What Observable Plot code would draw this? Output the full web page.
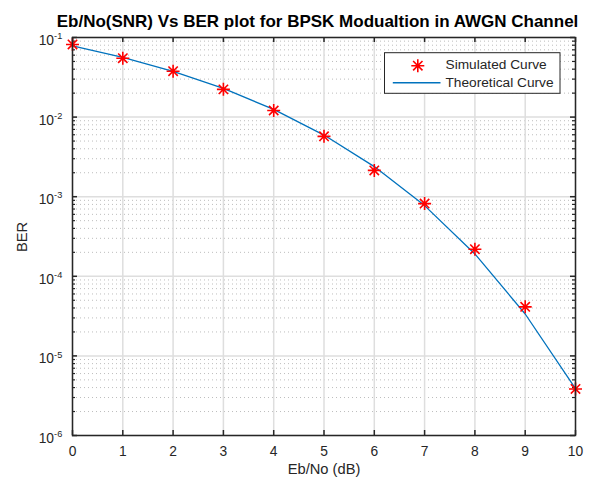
<!DOCTYPE html>
<html><head><meta charset="utf-8">
<script src="https://cdn.jsdelivr.net/npm/d3@7"></script>
<script src="https://cdn.jsdelivr.net/npm/@observablehq/plot@0.6"></script>
<style>body{margin:0;background:#fff}#chart svg{display:block}</style>
</head><body><div id="chart"></div>
<script>
const ebNo = [0, 1, 2, 3, 4, 5, 6, 7, 8, 9, 10];
const simulatedBER = [0.0817, 0.0549, 0.0377, 0.0223, 0.0121, 0.00573, 0.00214, 0.000819, 0.000219, 4.13e-5, 3.84e-6];
const theoreticalBER = [0.0786, 0.0563, 0.0375, 0.0229, 0.0125, 0.00595, 0.00239, 0.000773, 0.000191, 3.36e-5, 3.87e-6];
const xTicks = [0, 1, 2, 3, 4, 5, 6, 7, 8, 9, 10];
const yTicks = [1e-6, 1e-5, 1e-4, 1e-3, 1e-2, 1e-1];
const yTickBase = ["10", "10", "10", "10", "10", "10"];
const yTickExponents = ["-6", "-5", "-4", "-3", "-2", "-1"];
const minorMultipliers = [2, 3, 4, 5, 6, 7, 8, 9];
const titleText = "Eb/No(SNR) Vs BER plot for BPSK Modualtion in AWGN Channel";
const xLabel = "Eb/No (dB)";
const yLabel = "BER";
const legendLabels = ["Simulated Curve", "Theoretical Curve"];

const W = 601, H = 481, mL = 72, mR = 26, mT = 37, mB = 46;
const fw = W - mL - mR, fh = H - mT - mB;
const yMinor = yTicks.slice(0, -1).flatMap(d => minorMultipliers.map(k => d * k));
const axisColor = "#262626";
const font = "'Liberation Sans', Arial, Helvetica, sans-serif";

const asterisk = {
  draw(ctx, size) {
    const r = Math.sqrt(size / Math.PI), d = r * 0.72;
    ctx.moveTo(-r, 0); ctx.lineTo(r, 0);
    ctx.moveTo(0, -r); ctx.lineTo(0, r);
    ctx.moveTo(-d, -d); ctx.lineTo(d, d);
    ctx.moveTo(-d, d); ctx.lineTo(d, -d);
  }
};

const chart = Plot.plot({
  width: W, height: H,
  marginLeft: mL, marginRight: mR, marginTop: mT, marginBottom: mB,
  style: {fontFamily: font, background: "#fff", color: axisColor, overflow: "visible"},
  x: {domain: [0, 10]},
  y: {type: "log", domain: [1e-6, 1e-1], axis: null},
  marks: [
    Plot.ruleY(yMinor, {y: d => d, stroke: "#bdbdbd", strokeDasharray: "1,3"}),
    Plot.ruleX(xTicks, {x: d => d, stroke: "#dedede", strokeWidth: 1.5}),
    Plot.ruleY(yTicks, {y: d => d, stroke: "#dedede", strokeWidth: 1.5}),
    // inward ticks
    Plot.tickX(xTicks, {x: d => d, insetTop: fh - 5, stroke: axisColor, strokeWidth: 1.5}),
    Plot.tickX(xTicks, {x: d => d, insetBottom: fh - 5, stroke: axisColor, strokeWidth: 1.5}),
    Plot.tickY(yTicks, {y: d => d, insetRight: fw - 5, stroke: axisColor, strokeWidth: 1.5}),
    Plot.tickY(yTicks, {y: d => d, insetLeft: fw - 5, stroke: axisColor, strokeWidth: 1.5}),
    Plot.tickY(yMinor, {y: d => d, insetRight: fw - 3, stroke: axisColor, strokeWidth: 1.2}),
    Plot.tickY(yMinor, {y: d => d, insetLeft: fw - 3, stroke: axisColor, strokeWidth: 1.2}),
    // data
    Plot.line(ebNo, {x: d => d, y: (d, i) => theoreticalBER[i], stroke: "#0072BD", strokeWidth: 1.3}),
    Plot.dot(ebNo, {x: d => d, y: (d, i) => simulatedBER[i], symbol: asterisk, r: 6.5, stroke: "#ff0000", strokeWidth: 1.6, fill: "none"}),
    Plot.frame({stroke: axisColor, strokeWidth: 1.5}),
    // axis labels
    Plot.axisX(xTicks, {tickSize: 0, tickPadding: 10.5, fontSize: 13.8, fill: axisColor, label: null}),
    Plot.text(yTicks, {y: d => d, text: (d, i) => yTickBase[i], frameAnchor: "left", textAnchor: "end", dx: -18.5, dy: 3, fontSize: 13.8, fill: axisColor}),
    Plot.text(yTicks, {y: d => d, text: (d, i) => yTickExponents[i], frameAnchor: "left", textAnchor: "start", dx: -18.4, dy: -1.3, fontSize: 9.2, fill: axisColor}),
    Plot.text([titleText], {frameAnchor: "top", textAnchor: "middle", lineAnchor: "bottom", dx: -6.5, dy: -10.5, fontWeight: "bold", fontSize: 17, fill: "#000"}),
    Plot.text([xLabel], {frameAnchor: "bottom", textAnchor: "middle", lineAnchor: "bottom", dy: 38.5, fontSize: 14.7, fill: axisColor}),
    Plot.text([yLabel], {frameAnchor: "left", textAnchor: "middle", lineAnchor: "bottom", rotate: -90, dx: -45.3, dy: 0.5, fontSize: 14.7, fill: axisColor})
  ]
});

// legend (not data: a fixed box in the upper right of the frame)
const svg = d3.select(chart);
const lg = svg.append("g").attr("font-family", font).attr("font-size", 13.7).attr("fill", axisColor).attr("text-anchor", "start");
const bx = mL + fw - 15 - 175.5, by = mT + 15.7;
lg.append("rect").attr("x", bx).attr("y", by).attr("width", 175.5).attr("height", 40.6)
  .attr("fill", "#fff").attr("stroke", axisColor).attr("stroke-width", 1);
const mx = bx + 33.3, my = by + 13;
const sym = d3.symbol(asterisk, Math.PI * 6.5 * 6.5)();
lg.append("path").attr("d", sym).attr("transform", `translate(${mx},${my})`)
  .attr("stroke", "#ff0000").attr("stroke-width", 1.6).attr("fill", "none");
lg.append("line").attr("x1", bx + 8.3).attr("x2", bx + 56).attr("y1", by + 30).attr("y2", by + 30)
  .attr("stroke", "#0072BD").attr("stroke-width", 1.5);
lg.append("text").attr("x", bx + 61).attr("y", by + 16).text(legendLabels[0]);
lg.append("text").attr("x", bx + 61).attr("y", by + 34).text(legendLabels[1]);

document.getElementById("chart").appendChild(chart);
</script>
</body></html>
